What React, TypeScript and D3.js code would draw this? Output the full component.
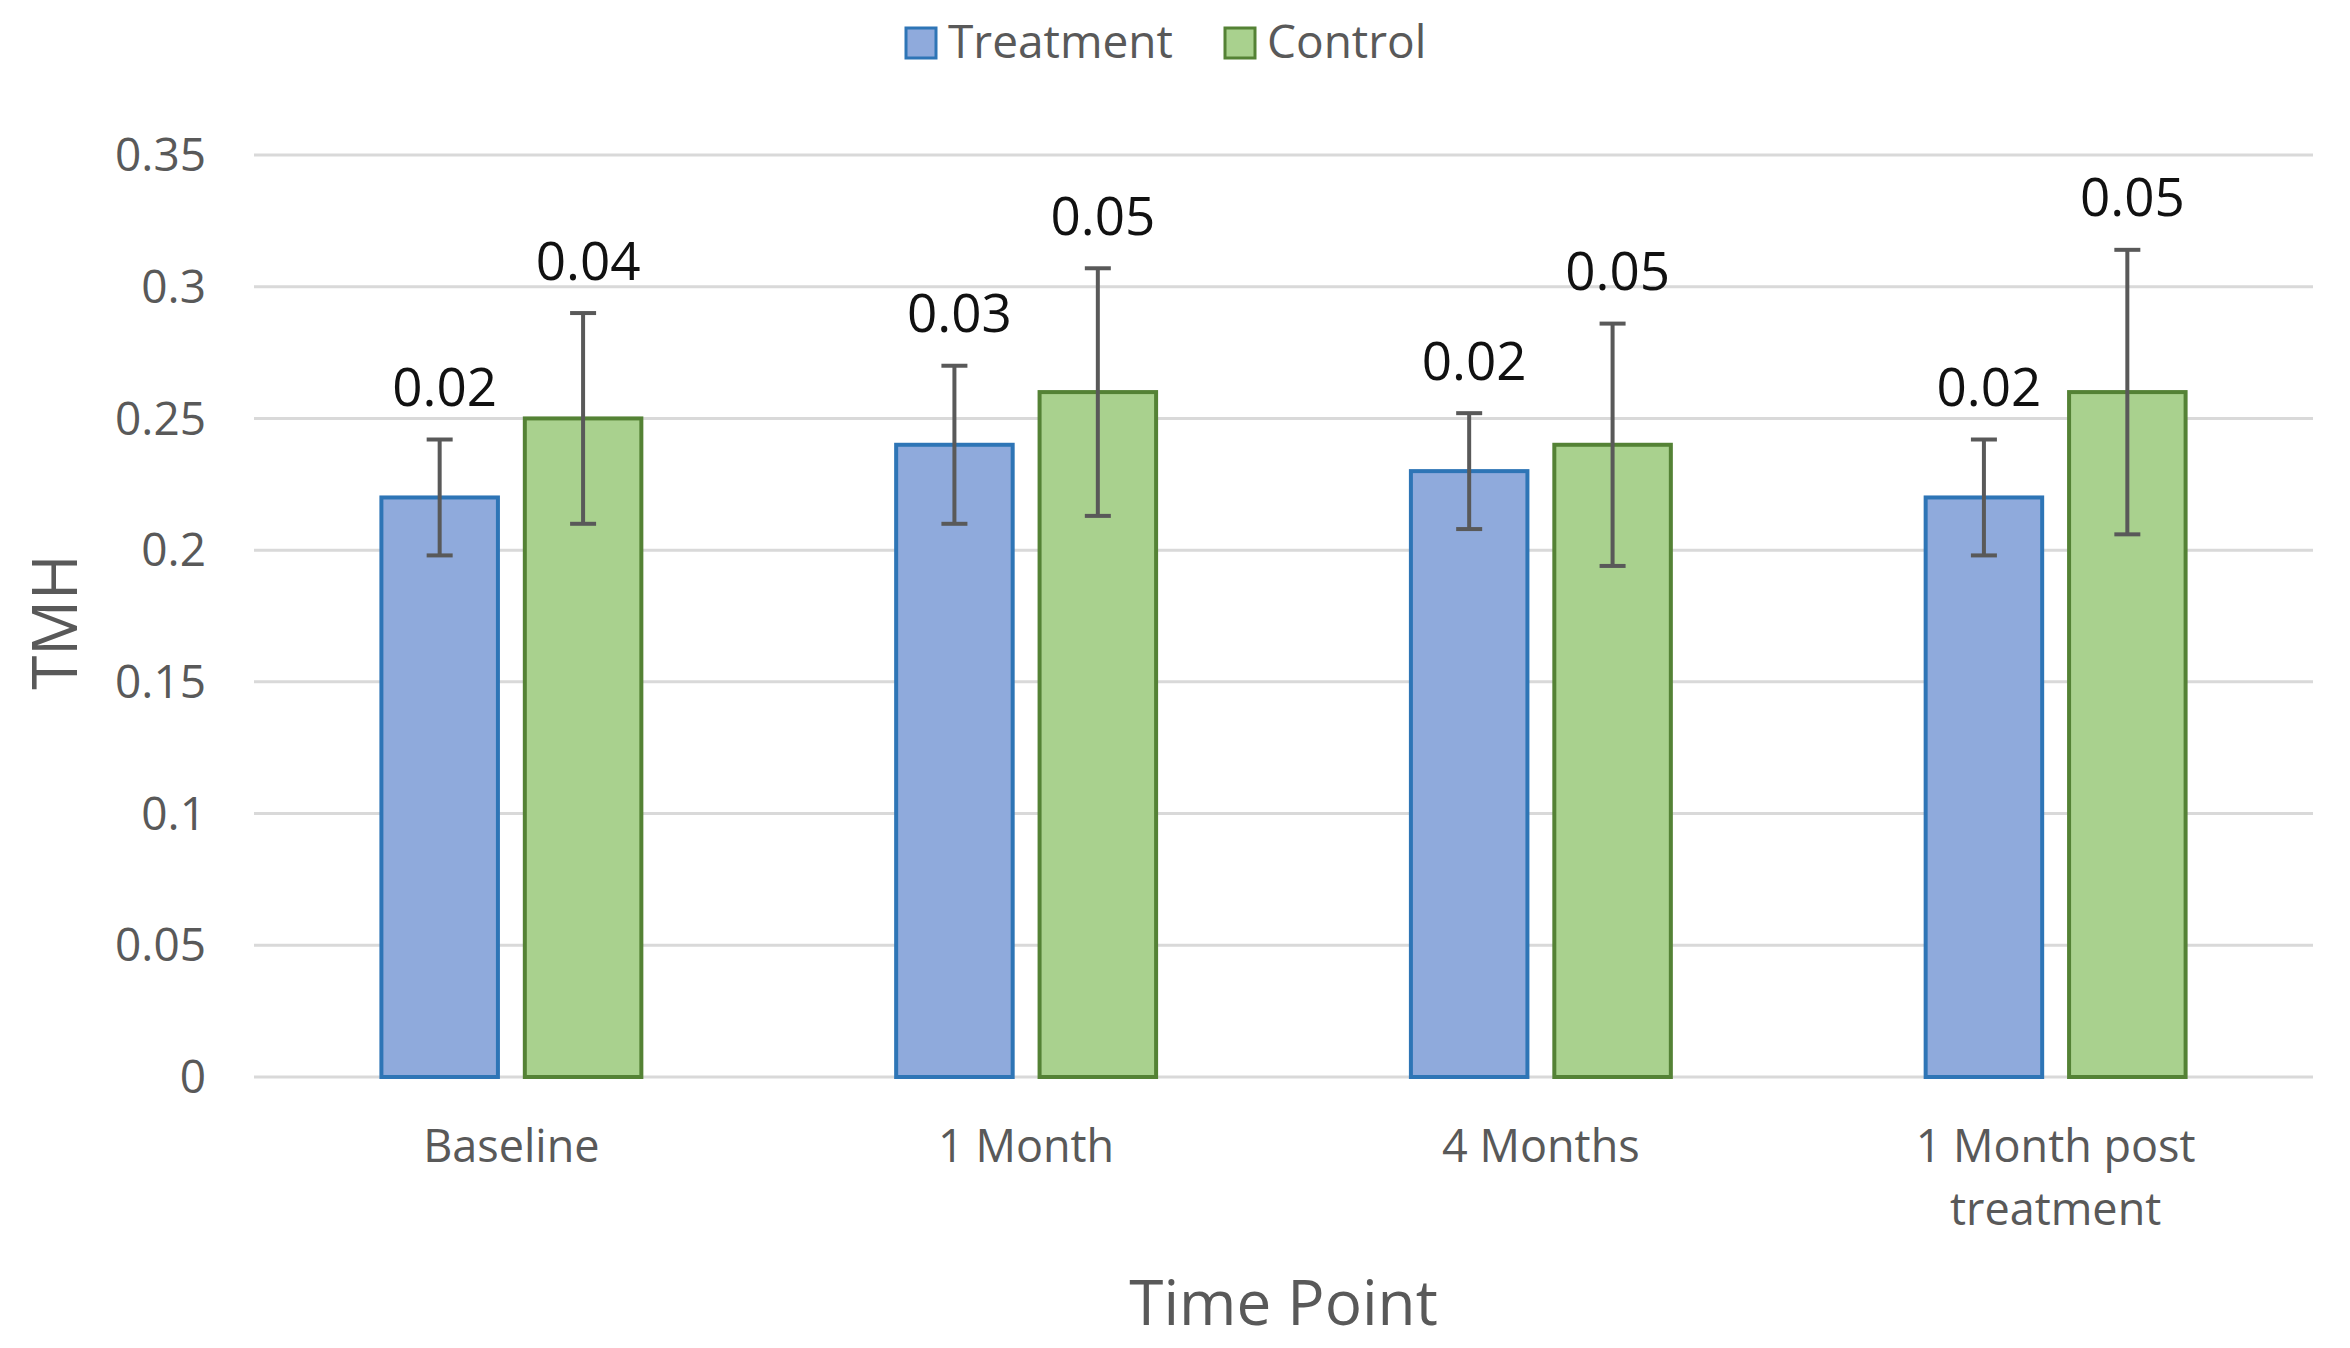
import React, { useRef, useEffect } from 'react';
import * as d3 from 'd3';

const categories = ['Baseline', '1 Month', '4 Months', '1 Month post treatment'];
const seriesNames = ['Treatment', 'Control'];
const treatmentValues = [0.22, 0.24, 0.23, 0.22];
const controlValues = [0.25, 0.26, 0.24, 0.26];
const treatmentErrors = [0.022, 0.03, 0.022, 0.022];
const controlErrors = [0.04, 0.047, 0.046, 0.054];
const yTicks = [0, 0.05, 0.1, 0.15, 0.2, 0.25, 0.3, 0.35];

const fills = ['#8faadc', '#a9d18e'];
const strokes = ['#2e75b6', '#548235'];
const textColor = '#595959';
const fontFamily = '"Open Sans", "Noto Sans", sans-serif';

const App: React.FC = () => {
  const svgRef = useRef<SVGSVGElement>(null);

  useEffect(() => {
    const width = 2350;
    const height = 1348;
    const margin = { top: 155, right: 37, bottom: 271, left: 254 };

    const svg = d3.select(svgRef.current);
    svg.selectAll('*').remove();
    svg.attr('width', width).attr('height', height);

    svg.append('rect').attr('width', width).attr('height', height).attr('fill', 'white');

    const xScale = d3.scaleBand<string>()
      .domain(categories)
      .range([margin.left, width - margin.right])
      .padding(0);

    const yScale = d3.scaleLinear()
      .domain([0, 0.35])
      .range([height - margin.bottom, margin.top]);

    // grid lines
    svg.append('g')
      .selectAll('line')
      .data(yTicks)
      .join('line')
      .attr('x1', margin.left)
      .attr('x2', width - margin.right)
      .attr('y1', d => yScale(d))
      .attr('y2', d => yScale(d))
      .attr('stroke', '#d9d9d9')
      .attr('stroke-width', 3);

    // y tick labels
    svg.append('g')
      .selectAll('text')
      .data(yTicks)
      .join('text')
      .attr('x', 206)
      .attr('y', d => yScale(d))
      .attr('dy', '0.35em')
      .attr('text-anchor', 'end')
      .attr('font-family', fontFamily)
      .attr('font-size', 46)
      .attr('fill', textColor)
      .text(d => String(d));

    // bars inside each group
    const band = xScale.bandwidth();
    const groupWidth = band * 0.505;
    const inner = d3.scaleBand<string>()
      .domain(seriesNames)
      .range([-groupWidth / 2, groupWidth / 2])
      .paddingInner(0.1875)
      .paddingOuter(0);

    const allSeries = [
      { name: seriesNames[0], values: treatmentValues, errors: treatmentErrors },
      { name: seriesNames[1], values: controlValues, errors: controlErrors },
    ];

    const fmt = d3.format('.2f');

    allSeries.forEach((s, si) => {
      const g = svg.append('g');
      const rows = categories.map((c, i) => ({ cat: c, value: s.values[i], err: s.errors[i] }));
      const bx = (c: string) => (xScale(c) as number) + band / 2 + (inner(s.name) as number);
      const bw = inner.bandwidth();

      g.selectAll('rect')
        .data(rows)
        .join('rect')
        .attr('x', d => bx(d.cat))
        .attr('y', d => yScale(d.value))
        .attr('width', bw)
        .attr('height', d => yScale(0) - yScale(d.value))
        .attr('fill', fills[si])
        .attr('stroke', strokes[si])
        .attr('stroke-width', 4);

      // error bars
      const eg = svg.append('g').attr('stroke', '#595959').attr('stroke-width', 4);
      rows.forEach(d => {
        const cx = bx(d.cat) + bw / 2;
        const top = yScale(d.value + d.err);
        const bot = yScale(d.value - d.err);
        eg.append('line').attr('x1', cx).attr('x2', cx).attr('y1', top).attr('y2', bot);
        eg.append('line').attr('x1', cx - 13).attr('x2', cx + 13).attr('y1', top).attr('y2', top);
        eg.append('line').attr('x1', cx - 13).attr('x2', cx + 13).attr('y1', bot).attr('y2', bot);
      });

      // sd labels
      svg.append('g')
        .selectAll('text')
        .data(rows)
        .join('text')
        .attr('x', d => bx(d.cat) + bw / 2 + 5)
        .attr('y', d => yScale(d.value + d.err) - 52)
        .attr('dy', '0.35em')
        .attr('text-anchor', 'middle')
        .attr('font-family', fontFamily)
        .attr('font-size', 53)
        .attr('fill', '#111')
        .text(d => fmt(d.err));
    });

    // category labels (wrap the long one)
    const catLines = (c: string) => (c.length > 12 ? ['1 Month post', 'treatment'] : [c]);
    categories.forEach(c => {
      const cx = (xScale(c) as number) + band / 2;
      const t = svg.append('text')
        .attr('x', cx)
        .attr('y', 1146)
        .attr('text-anchor', 'middle')
        .attr('font-family', fontFamily)
        .attr('font-size', 45)
        .attr('fill', textColor);
      catLines(c).forEach((line, i) => {
        t.append('tspan')
          .attr('x', cx)
          .attr('dy', i === 0 ? '0.35em' : 63)
          .text(line);
      });
    });

    // axis titles
    svg.append('text')
      .attr('x', (margin.left + width - margin.right) / 2)
      .attr('y', 1303)
      .attr('dy', '0.35em')
      .attr('text-anchor', 'middle')
      .attr('font-family', fontFamily)
      .attr('font-size', 62)
      .attr('fill', textColor)
      .text('Time Point');

    svg.append('text')
      .attr('transform', 'translate(55,622) rotate(-90)')
      .attr('dy', '0.35em')
      .attr('text-anchor', 'middle')
      .attr('font-family', fontFamily)
      .attr('font-size', 62)
      .attr('fill', textColor)
      .text('TMH');

    // legend
    const legend = svg.append('g');
    const legendX = [906, 1225];
    seriesNames.forEach((name, i) => {
      legend.append('rect')
        .attr('x', legendX[i])
        .attr('y', 28)
        .attr('width', 30)
        .attr('height', 30)
        .attr('fill', fills[i])
        .attr('stroke', strokes[i])
        .attr('stroke-width', 3);
      legend.append('text')
        .attr('x', legendX[i] + 42)
        .attr('y', 42)
        .attr('dy', '0.35em')
        .attr('font-family', fontFamily)
        .attr('font-size', 46)
        .attr('fill', textColor)
        .text(name);
    });
  }, []);

  return (
    <div style={{ position: 'absolute', left: 0, top: 0 }}>
      <svg ref={svgRef} style={{ display: 'block' }} />
    </div>
  );
};

export default App;
